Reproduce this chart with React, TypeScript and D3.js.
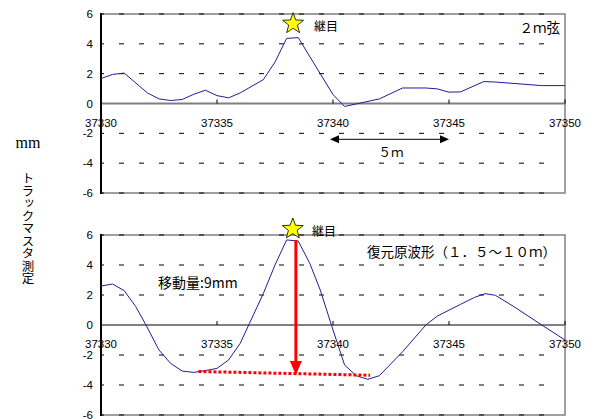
import React from 'react'
import * as d3 from 'd3'

// 2m chord measurement (km position, mm)
const chordX = [37330, 37330.5, 37331, 37332, 37332.5, 37333, 37333.5, 37334, 37334.5, 37335, 37335.5, 37336, 37337, 37337.5, 37338, 37338.5, 37340, 37340.5, 37342, 37343, 37344, 37344.5, 37345, 37345.5, 37346.5, 37347, 37349, 37350]
const chordY = [1.67, 1.95, 2.04, 0.71, 0.31, 0.2, 0.27, 0.62, 0.89, 0.53, 0.38, 0.71, 1.6, 2.78, 4.36, 4.42, 0.6, -0.2, 0.31, 1.04, 1.04, 0.98, 0.76, 0.78, 1.47, 1.44, 1.2, 1.2]

// restored original waveform (1.5~10m)
const waveX = [37330, 37330.5, 37331, 37331.5, 37331.9, 37332.5, 37333, 37333.5, 37334, 37334.5, 37335, 37335.5, 37336, 37336.4, 37337, 37337.5, 37338, 37338.5, 37339, 37339.45, 37340, 37340.5, 37341, 37341.5, 37342, 37343, 37344, 37344.5, 37345.5, 37346.1, 37346.55, 37347, 37347.8, 37349, 37350]
const waveY = [2.6, 2.73, 2.29, 1.22, 0.11, -1.67, -2.56, -3.07, -3.16, -3.04, -2.89, -2.33, -1.22, 0.11, 2.11, 4.0, 5.67, 5.6, 4.11, 2.33, -0.33, -2.67, -3.38, -3.62, -3.38, -1.78, 0, 0.6, 1.38, 1.84, 2.09, 1.98, 1.22, 0, -1.0]

const xTicks = [37330, 37335, 37340, 37345, 37350]
const yTicks = [6, 4, 2, 0, -2, -4, -6]
const gridTicks = [6, 4, 2, -2, -4, -6]

const jointX = 37338.28
const moveX = 37338.4
const moveFrom = 5.67
const moveTo = -3.33
const baseLineX = [37334.2, 37341.6]
const baseLineY = [-3.1, -3.35]

const jp = '"Noto Sans CJK JP", sans-serif'
const num = '"Liberation Sans", Arial, sans-serif'
const serif = '"Liberation Serif", "Times New Roman", serif'

const x = d3.scaleLinear().domain([37330, 37350]).range([101, 565])

function starPath(cx: number, cy: number, R: number, r: number) {
  const pts: [number, number][] = []
  for (let i = 0; i < 10; i++) {
    const a = -Math.PI / 2 + (i * Math.PI) / 5
    const rad = i % 2 === 0 ? R : r
    pts.push([cx + rad * Math.cos(a), cy + rad * Math.sin(a)])
  }
  return 'M' + pts.map(p => p.join(',')).join('L') + 'Z'
}

function Panel({ top, bottom, xs, ys }: { top: number; bottom: number; xs: number[]; ys: number[] }) {
  const y = d3.scaleLinear().domain([-6, 6]).range([bottom, top])
  const line = d3.line<number>().x((_, i) => x(xs[i])).y(d => y(d))
  const [x0, x1] = x.range()
  return (
    <g>
      {/* frame */}
      <rect x={x0} y={y(6)} width={x1 - x0} height={y(-6) - y(6)} fill="none" stroke="#808080" strokeWidth={1.5} />
      {gridTicks.map(t => (
        <line key={t} x1={x0} x2={x1 - 6} y1={y(t)} y2={y(t)} stroke="#000" strokeWidth={1} strokeDasharray="5,15" strokeDashoffset={2} />
      ))}
      <line x1={x0} x2={x1} y1={y(0)} y2={y(0)} stroke="#808080" strokeWidth={2} />
      {xTicks.map(t => (
        <line key={t} x1={x(t)} x2={x(t)} y1={y(0)} y2={y(0) - 4} stroke="#000" strokeWidth={1} />
      ))}
      <line x1={x0} x2={x0} y1={y(6) - 1} y2={y(-6) + 1} stroke="#000" strokeWidth={2} />
      {yTicks.map(t => (
        <text key={t} x={93} y={y(t) + 4} textAnchor="end" fontFamily={num} fontSize={11.5} fill="#000">{t}</text>
      ))}
      {xTicks.map(t => (
        <text key={t} x={x(t)} y={y(0) + 23} textAnchor="middle" fontFamily={num} fontSize={11.5} fill="#000">{t}</text>
      ))}
      <path d={line(ys) || ''} fill="none" stroke="#1f1f96" strokeWidth={1} />
    </g>
  )
}

export default function App() {
  const yTop = d3.scaleLinear().domain([-6, 6]).range([193, 14])
  const yBot = d3.scaleLinear().domain([-6, 6]).range([415, 235])
  return (
    <svg width={595} height={419} style={{ position: 'absolute', left: 0, top: 0, background: '#fff' }}>
      <rect width={595} height={419} fill="#fff" />
      <Panel top={14} bottom={193} xs={chordX} ys={chordY} />
      <Panel top={235} bottom={415} xs={waveX} ys={waveY} />

      {/* y axis title */}
      <text x={28} y={148} textAnchor="middle" fontFamily={serif} fontSize={16}>mm</text>
      <text x={28} y={172} fontFamily={jp} fontSize={12.5} style={{ writingMode: 'vertical-rl' }}>トラックマスタ測定</text>

      {/* top panel annotations */}
      <path d={starPath(x(jointX), yTop(5.35), 11, 4.6)} fill="#ffff00" stroke="#000" strokeWidth={0.8} />
      <text x={314} y={31} fontFamily={jp} fontSize={12}>継目</text>
      <text x={560} y={33} textAnchor="end" fontFamily={jp} fontSize={13.5}>２ｍ弦</text>
      <line x1={x(37340) + 5} x2={x(37345) - 5} y1={yTop(-2.4)} y2={yTop(-2.4)} stroke="#333" strokeWidth={1.3} />
      <path d={`M${x(37340) - 3},${yTop(-2.4)}l9,-4v8z`} fill="#000" />
      <path d={`M${x(37345)},${yTop(-2.4)}l-9,-4v8z`} fill="#000" />
      <text x={(x(37340) + x(37345)) / 2} y={157} textAnchor="middle" fontFamily={jp} fontSize={12.5}>５ｍ</text>

      {/* bottom panel annotations */}
      <line x1={x(baseLineX[0])} x2={x(baseLineX[1])} y1={yBot(baseLineY[0])} y2={yBot(baseLineY[1])} stroke="#ff0000" strokeWidth={3} strokeDasharray="3,2" />
      <line x1={x(moveX)} x2={x(moveX)} y1={yBot(moveFrom)} y2={yBot(moveTo) - 12} stroke="#ff0000" strokeWidth={3} />
      <path d={`M${x(moveX)},${yBot(moveTo)}l-6,-14h12z`} fill="#ff0000" />
      <path d={starPath(x(jointX) - 0.3, 229, 11, 4.6)} fill="#ffff00" stroke="#000" strokeWidth={0.8} />
      <text x={312} y={236} fontFamily={jp} fontSize={12}>継目</text>
      <text x={158} y={288} fontFamily={jp} fontSize={14}>移動量:9mm</text>
      <text x={556} y={257} textAnchor="end" fontFamily={jp} fontSize={13.5}>復元原波形（１．５～１０ｍ）</text>
    </svg>
  )
}
